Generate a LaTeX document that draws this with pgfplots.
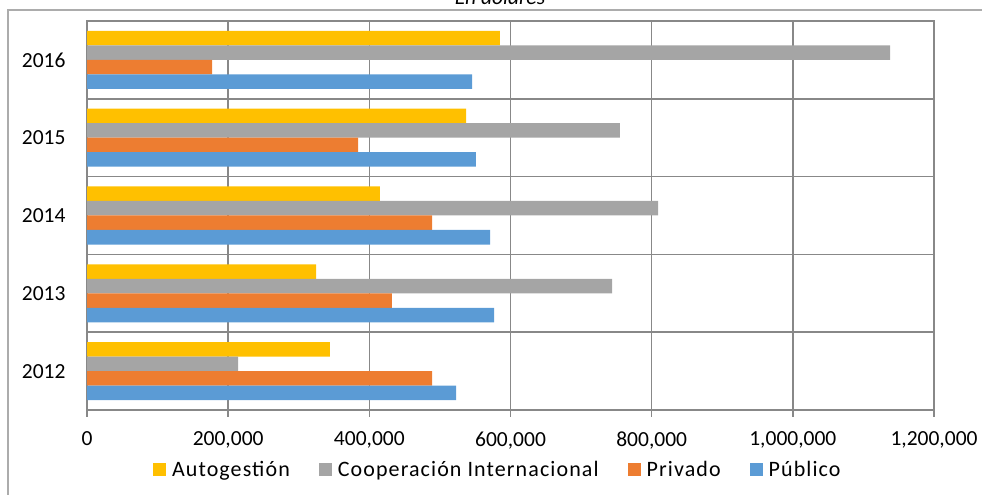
\documentclass[border=0pt]{standalone}
\usepackage{pgfplots}
\pgfplotsset{compat=1.18}
\usepackage{fontspec}
\setmainfont{Carlito}
\definecolor{cA}{HTML}{FFC000}
\definecolor{cB}{HTML}{A5A5A5}
\definecolor{cC}{HTML}{ED7D31}
\definecolor{cD}{HTML}{5B9BD5}
\definecolor{gridc}{HTML}{888888}
\newcommand{\cf}{\fontsize{21.5}{25}\selectfont}
\newcommand{\lf}{\fontsize{22}{26}\selectfont\addfontfeature{LetterSpace=5}}
\begin{document}
\begin{tikzpicture}[x=1pt,y=1pt]
\useasboundingbox (0,0) rectangle (982,495);
\draw[color=gridc!70, line width=1.3pt] (8,-5) -- (8,485) -- (990,485);
\node[anchor=base, font=\cf\itshape, inner sep=0pt] at (500,490) {En dólares};
\begin{axis}[
  at={(87pt,85pt)}, anchor=south west, scale only axis,
  width=847pt, height=389pt,
  xbar, xmin=0, xmax=1200000, ymin=-0.5, ymax=4.5,
  xtick={0,200000,400000,600000,800000,1000000,1200000},
  scaled x ticks=false,
  xticklabel style={yshift=-11pt, /pgf/number format/.cd, fixed, 1000 sep={,}, assume math mode=true},
  ytick={0,1,2,3,4}, yticklabels={2012,2013,2014,2015,2016},
  yticklabel style={xshift=-11pt},
  minor ytick={-0.5,0.5,1.5,2.5,3.5,4.5},
  xtick pos=bottom, ytick pos=left,
  ymajorgrids=false, yminorgrids=true, xmajorgrids=true,
  grid style={color=gridc, line width=1.5pt},
  minor grid style={color=gridc, line width=1.5pt},
  axis line style={color=gridc, line width=1.5pt},
  tick style={color=gridc, line width=1.5pt},
  major tick length=7pt, minor tick length=7pt, tick align=outside,
  ytick style={draw=none},
  tick label style={font=\cf, text=black},
  bar width=0.1864,
  legend columns=4,
  legend style={at={(0.485,-0.154)}, anchor=center, draw=none, font=\lf,
    /tikz/every odd column/.append style={column sep=4pt},
    /tikz/every even column/.append style={column sep=27pt}},
  legend image code/.code={\fill[#1] (0pt,-6.5pt) rectangle (13pt,6.5pt);},
]
\addplot[fill=cA, draw=none, bar shift=0.2796] coordinates {(344000,0) (324500,1) (415000,2) (537000,3) (585000,4)};
\addplot[fill=cB, draw=none, bar shift=0.0932] coordinates {(214000,0) (744000,1) (809000,2) (755000,3) (1137700,4)};
\addplot[fill=cC, draw=none, bar shift=-0.0932] coordinates {(488800,0) (432100,1) (488800,2) (384000,3) (177100,4)};
\addplot[fill=cD, draw=none, bar shift=-0.2796] coordinates {(522800,0) (576700,1) (571000,2) (551100,3) (545500,4)};
\legend{Autogestión, Cooperación Internacional, Privado, Público}
\end{axis}
\end{tikzpicture}
\end{document}
